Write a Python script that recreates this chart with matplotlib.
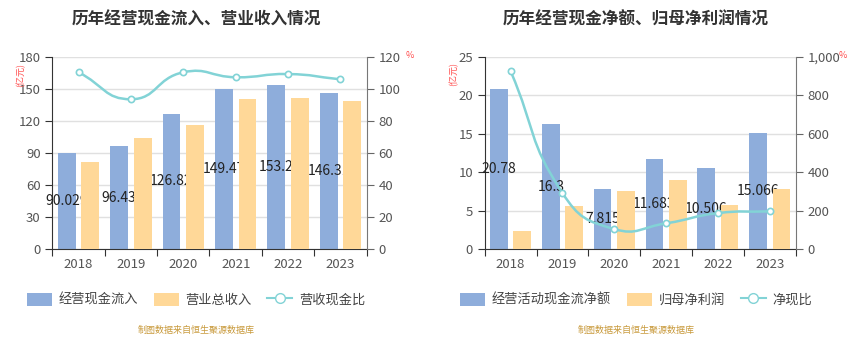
import numpy as np
import matplotlib
matplotlib.use("Agg")
import matplotlib.pyplot as plt
from matplotlib.path import Path
from matplotlib.patches import Patch, PathPatch
from matplotlib.lines import Line2D
from matplotlib.ticker import FuncFormatter

plt.rcParams['font.family'] = ['Noto Sans CJK SC', 'DejaVu Sans']

years = ["2018", "2019", "2020", "2021", "2022", "2023"]

# left chart
cash_in = [90.029, 96.43, 126.82, 149.47, 153.2, 146.31]
cash_in_lbl = ["90.029", "96.43", "126.82", "149.47", "153.2", "146.31"]
revenue = [81.9, 103.7, 115.9, 140.2, 141.1, 138.6]
cash_ratio = [110.3, 93.5, 110.3, 107.2, 109.2, 105.9]

# right chart
net_cf = [20.78, 16.3, 7.815, 11.683, 10.506, 15.066]
net_cf_lbl = ["20.78", "16.3", "7.815", "11.683", "10.506", "15.066"]
net_profit = [2.34, 5.66, 7.57, 9.0, 5.75, 7.79]
net_ratio = [925, 292, 105, 135, 188, 197]

BLUE = '#8eaddb'
YELLOW = '#ffd898'
TEAL = '#82d3d6'
RED = '#ff4d4d'


def smooth_path(x, y, sx, sy, s=0.5):
    # echarts-like bezier smoothing, worked out in pixel units
    x = np.asarray(x, float) * sx
    y = np.asarray(y, float) * sy
    n = len(x)
    cps = []
    for i in range(n):
        px, py = (x[i - 1], y[i - 1]) if i > 0 else (x[i], y[i])
        nx, ny = (x[i + 1], y[i + 1]) if i < n - 1 else (x[i], y[i])
        vx, vy = nx - px, ny - py
        d0 = np.hypot(x[i] - px, y[i] - py)
        d1 = np.hypot(nx - x[i], ny - y[i])
        r = d1 / (d0 + d1) if d0 + d1 > 0 else 0.5
        cps.append(((x[i] - vx * s * (1 - r), y[i] - vy * s * (1 - r)),
                    (x[i] + vx * s * r, y[i] + vy * s * r)))
    verts = [(x[0], y[0])]
    codes = [Path.MOVETO]
    for i in range(n - 1):
        verts += [cps[i][1], cps[i + 1][0], (x[i + 1], y[i + 1])]
        codes += [Path.CURVE4] * 3
    verts = [(a / sx, b / sy) for a, b in verts]
    return verts, codes


def draw_panel(fig, rect, title, tx, blue, blue_lbl, yellow, ratio,
               ymax, ystep, rmax, rstep, rfmt, names, unit_pos, pct_pos):
    ax = fig.add_axes(rect)
    x = np.arange(len(years))
    w = 0.34
    ax.bar(x - 0.225, blue, w, color=BLUE, zorder=2)
    for i in range(len(years)):
        ax.text(x[i] - 0.225, blue[i] / 2, blue_lbl[i], ha='center', va='center',
                fontsize=10, color='#222222', zorder=3)
    ax.bar(x + 0.225, yellow, w, color=YELLOW, zorder=4)
    ax.set_xlim(-0.5, len(years) - 0.5)
    ax.set_ylim(0, ymax)
    ax.set_yticks(np.arange(0, ymax + 0.01, ystep))
    ax.yaxis.grid(True, color='#e0e0e0', linewidth=1, zorder=0)
    ax.set_axisbelow(True)
    ax.set_xticks(np.arange(-0.5, len(years), 1))
    ax.set_xticklabels([])
    ax.set_xticks(x, minor=True)
    ax.set_xticklabels(years, minor=True)
    ax.tick_params(axis='x', which='minor', length=0, pad=6, labelsize=9.5, labelcolor='#555555')
    ax.tick_params(axis='x', which='major', length=5, color='#333333')
    ax.tick_params(axis='y', length=5, color='#333333', labelsize=9.5, labelcolor='#555555')
    for sp in ['top', 'right']:
        ax.spines[sp].set_visible(False)
    ax.spines['left'].set_color('#333333')
    ax.spines['bottom'].set_color('#333333')

    ax2 = ax.twinx()
    ax2.set_ylim(0, rmax)
    ax2.set_yticks(np.arange(0, rmax + 0.01, rstep))
    ax2.yaxis.set_major_formatter(FuncFormatter(rfmt))
    ax2.tick_params(axis='y', length=5, color='#666666', labelsize=9.5, labelcolor='#555555')
    for sp in ['top', 'left', 'bottom']:
        ax2.spines[sp].set_visible(False)
    ax2.spines['right'].set_color('#777777')
    # pixel scale of one category and one ratio unit
    fw, fh = fig.get_size_inches() * fig.dpi
    sx = rect[2] * fw / len(years)
    sy = rect[3] * fh / rmax
    verts, codes = smooth_path(x, ratio, sx, sy)
    ax2.add_patch(PathPatch(Path(verts, codes), facecolor='none', edgecolor=TEAL,
                            linewidth=1.8, zorder=5))
    ax2.plot(x, ratio, 'o', markersize=4.5, markerfacecolor='white',
             markeredgecolor=TEAL, markeredgewidth=1.2, zorder=6)

    fig.text(tx, 0.943, title, ha='center', va='center', fontsize=12,
             fontweight='bold', color='#333333')
    fig.text(unit_pos[0], unit_pos[1], '(亿元)', rotation=90, ha='center', va='center',
             fontsize=6.5, color=RED)
    fig.text(pct_pos[0], pct_pos[1], '%', ha='center', va='center', fontsize=6.5, color=RED)

    handles = [Patch(facecolor=BLUE, edgecolor='none'),
               Patch(facecolor=YELLOW, edgecolor='none'),
               Line2D([0], [0], color=TEAL, lw=1.5, marker='o', markersize=7,
                      markerfacecolor='white', markeredgecolor=TEAL)]
    fig.legend(handles, names, loc='center', bbox_to_anchor=(tx, 0.143), ncol=3,
               frameon=False, fontsize=9.5, handlelength=1.9, handleheight=1.1,
               columnspacing=1.2, handletextpad=0.5, labelcolor='#444444')
    fig.text(tx, 0.055, '制图数据来自恒生聚源数据库', ha='center', va='center',
             fontsize=6.5, color='#c8993a')
    return ax, ax2


fig = plt.figure(figsize=(8.48, 3.5), dpi=100)

draw_panel(fig, [0.0617, 0.2877, 0.3707, 0.5503], '历年经营现金流入、营业收入情况', 0.231,
           cash_in, cash_in_lbl, revenue, cash_ratio, 180, 30, 120, 20,
           lambda v, p: f"{v:.0f}", ['经营现金流入', '营业总收入', '营收现金比'],
           (0.024, 0.785), (0.483, 0.84))

draw_panel(fig, [0.5716, 0.2877, 0.3667, 0.5503], '历年经营现金净额、归母净利润情况', 0.75,
           net_cf, net_cf_lbl, net_profit, net_ratio, 25, 5, 1000, 200,
           lambda v, p: f"{v:,.0f}", ['经营活动现金流净额', '归母净利润', '净现比'],
           (0.535, 0.79), (0.994, 0.84))

fig.savefig("out.png", dpi=100)
